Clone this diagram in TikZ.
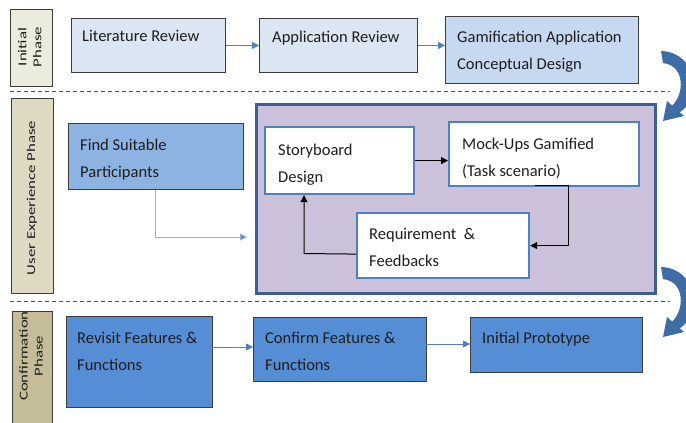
\documentclass[tikz,border=0pt]{standalone}
\usepackage{fontspec}
\setmainfont{Carlito}
\usepackage{graphicx}
\usetikzlibrary{arrows.meta,calc}
\definecolor{boxline}{HTML}{3C3C3C}
\definecolor{innerline}{HTML}{4F81BD}
\definecolor{purpleline}{HTML}{3D5F8C}
\definecolor{textc}{HTML}{1E1E1E}
\definecolor{arrowblue}{HTML}{4F81BD}
\definecolor{lightline}{HTML}{8DB0DC}
\definecolor{curvblue}{HTML}{3E6DA6}
\definecolor{fillA}{HTML}{DCE6F2}
\definecolor{fillB}{HTML}{C6D9F1}
\definecolor{fillC}{HTML}{8DB3E2}
\definecolor{fillD}{HTML}{558ED5}
\definecolor{fillP}{HTML}{CCC1DA}
\definecolor{tanA}{HTML}{ECECDE}
\definecolor{tanB}{HTML}{DDD9C3}
\definecolor{tanC}{HTML}{C4BD97}
\definecolor{sepc}{HTML}{505050}
\begin{document}
\begin{tikzpicture}[x=1pt,y=-1pt,
  blk/.style={draw=boxline, line width=0.9pt, inner sep=0pt, anchor=north west},
  innerbox/.style={draw=innerline, line width=2.2pt, fill=white, inner sep=0pt, anchor=north west},
  txt/.style={anchor=base west, inner sep=0pt, align=left, text=textc, font=\fontsize{16.5}{27.5}\selectfont},
  phtxt/.style={rotate=90, inner sep=0pt, text=textc, font=\fontsize{12}{15}\selectfont},
  flow/.style={draw=arrowblue, line width=0.9pt, -{Triangle[length=7pt,width=7pt]}},
  lightflow/.style={draw=lightline, line width=1pt, -{Triangle[length=7pt,width=7pt,fill=arrowblue]}},
  blackflow/.style={draw=black, line width=1pt, -{Triangle[length=7pt,width=7pt]}},
  sepline/.style={draw=sepc, line width=0.9pt, dash pattern=on 4pt off 3pt},
  bendarrow/.style={fill=curvblue}
]
\useasboundingbox (0,0) rectangle (686,423);
\fill[white] (0,0) rectangle (686,423);

% separators
\coordinate (s1a) at (10,91); \coordinate (s1b) at (670,91);
\coordinate (s2a) at (10,301); \coordinate (s2b) at (670,301);
\draw[sepline] (s1a) -- (s1b);
\draw[sepline] (s2a) -- (s2b);

% phase labels
\node[blk, fill=tanA, minimum width=42pt, minimum height=77pt] (ph1) at (10,9) {};
\node[phtxt] (ph1t) at (31,47) {\scalebox{1.4}[1]{\begin{tabular}{@{}c@{}}Initial\\Phase\end{tabular}}};
\node[blk, fill=tanB, minimum width=42pt, minimum height=195pt] (ph2) at (11,98) {};
\node[phtxt] (ph2t) at (32,198) {\scalebox{1.4}[1]{User Experience Phase}};
\node[blk, fill=tanC, minimum width=40pt, minimum height=120pt] (ph3) at (12,311) {};
\node[phtxt] (ph3t) at (32,356) {\scalebox{1.4}[1]{\begin{tabular}{@{}c@{}}Confirmation\\Phase\end{tabular}}};

% initial phase
\node[blk, fill=fillA, minimum width=154pt, minimum height=54pt] (lit) at (71,18) {};
\node[txt] (litt) at (82,41) {Literature Review};
\node[blk, fill=fillA, minimum width=158pt, minimum height=54pt] (app) at (259,18) {};
\node[txt] (appt) at (272,42) {Application Review};
\node[blk, fill=fillB, minimum width=193pt, minimum height=67pt] (gam) at (445,16) {};
\node[txt] (gamt) at (457,69.5) {Gamification Application\\Conceptual Design};
\draw[flow] (lit.east) -- (app.west);
\draw[flow] (app.east) -- (app.east -| gam.west);

% user experience phase
\node[blk, fill=fillC, minimum width=175pt, minimum height=66pt] (find) at (68,123) {};
\node[txt] (findt) at (80,177.5) {Find Suitable\\Participants};
\node[draw=purpleline, line width=2.6pt, fill=fillP, inner sep=0pt, anchor=north west, minimum width=399pt, minimum height=189pt] (purp) at (255,103) {};
\node[innerbox, minimum width=149pt, minimum height=67pt] (story) at (264,126) {};
\node[txt] (storyt) at (278,182.5) {Storyboard\\Design};
\node[innerbox, minimum width=190pt, minimum height=64pt] (mock) at (448,121) {};
\node[txt] (mockt) at (462,176.5) {Mock-Ups Gamified\\(Task scenario)};
\node[innerbox, minimum width=172pt, minimum height=65pt] (req) at (356,212) {};
\node[txt] (reqt) at (369,266.5) {Requirement~ \&\\Feedbacks};

\coordinate (fdown) at (155,237);
\coordinate (fend) at (247,237);
\draw[lightflow] (find.south -| fdown) -- (fdown) -- (fend);
\draw[blackflow] (story.east) -- (story.east -| mock.west);
\coordinate (mk1) at (535,185);
\coordinate (mk2) at (568,185);
\draw[blackflow] (mk1) -- (mk2) -- (mk2 |- req.east) -- (req.east);
\coordinate (rq1) at ($(req.west)+(0,8.5)$);
\coordinate (rq2) at (304,253.5);
\draw[blackflow] (rq1) -- (rq2) -- (rq2 |- story.south);

% confirmation phase
\node[blk, fill=fillD, minimum width=146pt, minimum height=91pt] (rev) at (66,316) {};
\node[txt] (revt) at (77,370.5) {Revisit Features \&\\Functions};
\node[blk, fill=fillD, minimum width=173pt, minimum height=64pt] (conf) at (253,317) {};
\node[txt] (conft) at (265,370.5) {Confirm Features \&\\Functions};
\node[blk, fill=fillD, minimum width=172pt, minimum height=55pt] (proto) at (470,317) {};
\node[txt] (protot) at (482,343) {Initial Prototype};
\coordinate (rv1) at (212,347);
\draw[flow] (rv1) -- (rv1 -| conf.west);
\coordinate (cf1) at (426,344);
\draw[flow] (cf1) -- (cf1 -| proto.west);

% curved phase transition arrows
\begin{scope}
\clip (0,0) rectangle (686,423);
\foreach \dy in {0,216}{
\fill[bendarrow, yshift=-\dy pt]
  (661,51) .. controls (697,52) and (703,98) .. (679.75,112.25)
  -- (684,116) -- (663,121) -- (667,101) -- (672.1,105.5)
  .. controls (684,95) and (686,66) .. (663,63) -- cycle;
}
\end{scope}
\end{tikzpicture}
\end{document}
